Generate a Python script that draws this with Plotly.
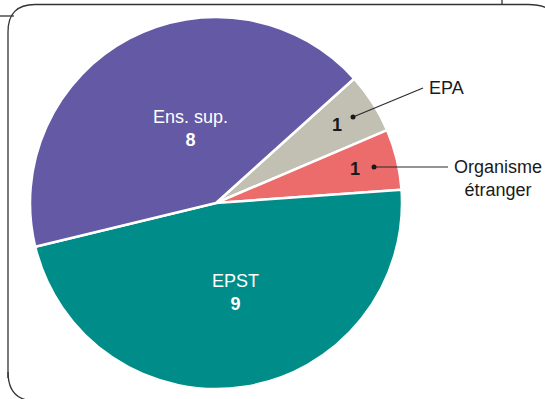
import plotly.graph_objects as go

# ---- data ----
labels = ["EPA", "Organisme étranger", "EPST", "Ens. sup."]
values = [1, 1, 9, 8]
colors = ["#C2BFB3", "#EC6B6B", "#008C89", "#6459A4"]
display_names = {"EPA": "EPA", "Organisme étranger": "Organisme<br>étranger",
                 "EPST": "EPST", "Ens. sup.": "Ens. sup."}

W, H = 545, 399
CX, CY, R = 216, 203, 186
ROT = 48  # start bearing, clockwise

fig = go.Figure()
fig.add_trace(go.Pie(
    labels=labels, values=values, sort=False, direction="clockwise",
    rotation=ROT, textinfo="none", hoverinfo="label+value",
    marker=dict(colors=colors, line=dict(color="white", width=2.5)),
    domain=dict(x=[(CX - R) / W, (CX + R) / W], y=[(H - CY - R) / H, (H - CY + R) / H]),
    showlegend=False,
))

def px(x, y):
    return x / W, 1 - y / H

FONT = "Liberation Sans, Arial, sans-serif"
anns = []
shapes = []

# label placement (pixel positions of text centres)
inside_pos = {"EPST": (235, 292), "Ens. sup.": (190, 129)}
number_pos = {"EPA": (337, 125), "Organisme étranger": (355, 169)}
dot_pos = {"EPA": (353, 117), "Organisme étranger": (374, 167)}
callout_end = {"EPA": (423, 88), "Organisme étranger": (448, 167)}

for lab, val in zip(labels, values):
    if lab in inside_pos:
        x, y = px(*inside_pos[lab])
        anns.append(dict(x=x, y=y, xref="paper", yref="paper", showarrow=False,
                         xanchor="center", yanchor="middle",
                         text=f"{display_names[lab]}<br><b>{val}</b>", align="center",
                         font=dict(family=FONT, size=18, color="white")))
    else:
        x, y = px(*number_pos[lab])
        anns.append(dict(x=x, y=y, xref="paper", yref="paper", showarrow=False,
                         xanchor="center", yanchor="middle",
                         text=f"<b>{val}</b>",
                         font=dict(family=FONT, size=18, color="#1a1a1a")))
        dx_, dy_ = dot_pos[lab]
        lx, ly = callout_end[lab]
        x0, y0 = px(dx_, dy_)
        x1, y1 = px(lx, ly)
        shapes.append(dict(type="line", xref="paper", yref="paper", x0=x0, y0=y0, x1=x1, y1=y1,
                           line=dict(color="#2b2b2b", width=1.2)))
        shapes.append(dict(type="circle", xref="paper", yref="paper",
                           x0=(dx_ - 2.5) / W, x1=(dx_ + 2.5) / W,
                           y0=1 - (dy_ + 2.5) / H, y1=1 - (dy_ - 2.5) / H,
                           fillcolor="#1a1a1a", line=dict(width=0)))
        if lab == "EPA":
            tx, ty = px(lx + 4, ly)
            anns.append(dict(x=tx, y=ty, xref="paper", yref="paper", showarrow=False,
                             xanchor="left", yanchor="middle", text=display_names[lab],
                             font=dict(family=FONT, size=18, color="#1a1a1a")))
        else:
            tx, ty = px(lx + 4, ly - 12)
            anns.append(dict(x=tx, y=ty, xref="paper", yref="paper", showarrow=False,
                             xanchor="left", yanchor="top", text=display_names[lab], align="center",
                             font=dict(family=FONT, size=18, color="#1a1a1a")))

# frame (rounded rectangle, partially out of view)
def P(x, y):
    a, b = px(x, y)
    return f"{a:.5f},{b:.5f}"

frame = (f"M {P(8, 378)} L {P(8, 32)} Q {P(8, 4.5)} {P(35, 4.5)} "
         f"L {P(528, 4.5)} Q {P(545, 4.5)} {P(552, 12)}")
bottom = f"M {P(8, 372)} Q {P(8, 401)} {P(36, 401)}"
side = f"M {P(0, 16)} L {P(14, 16)}"
tick = f"M {P(502, 0)} L {P(502, 4.5)}"
for pth in (frame, bottom, side, tick):
    shapes.append(dict(type="path", xref="paper", yref="paper", path=pth,
                       line=dict(color="#333333", width=1.3)))

fig.update_layout(
    width=W, height=H, margin=dict(l=0, r=0, t=0, b=0),
    paper_bgcolor="white", plot_bgcolor="white",
    annotations=anns, shapes=shapes,
    font=dict(family=FONT),
)
fig.write_html("out.html")
